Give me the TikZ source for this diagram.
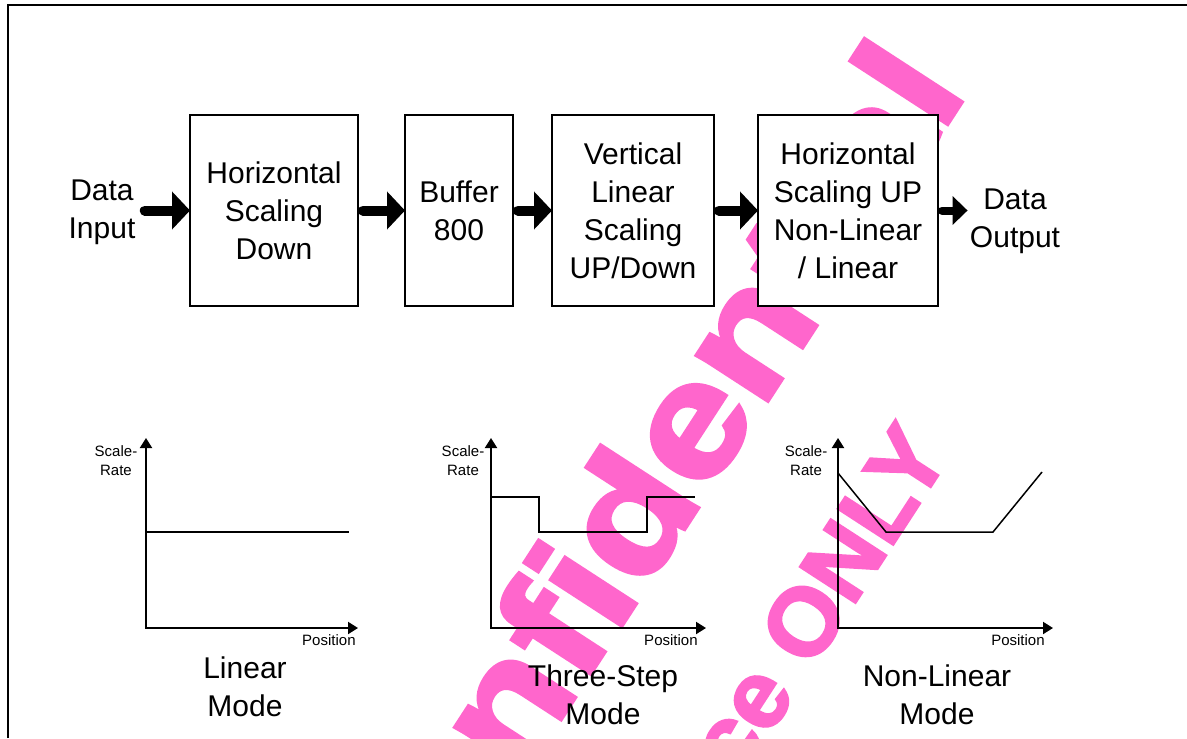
\documentclass[tikz,border=0pt]{standalone}
\usepackage{fontspec}
\setmainfont{Liberation Sans}
\newfontface\wmfont{Liberation Sans Bold}[FakeBold=2.5]
\usetikzlibrary{arrows.meta,positioning}
\definecolor{wmpink}{RGB}{255,102,204}

\begin{document}
\begin{tikzpicture}[
  x=0.5pt,y=-0.5pt,
  font=\fontsize{15}{19}\selectfont,
  blk/.style={draw,line width=0.8pt,fill=white,align=center,
              minimum height=95.5pt,inner sep=0pt,outer sep=0pt},
  lbl/.style={align=center,inner sep=2pt},
  tiny/.style={font=\fontsize{7.5}{9.5}\selectfont,align=center,inner sep=0pt},
  bigar/.style={line width=5pt,line cap=round,shorten <=2.5pt,
                -{Triangle[length=9pt,width=18.5pt]}},
  smallar/.style={line width=4pt,line cap=round,shorten <=2pt,
                  -{Triangle[length=7.5pt,width=14pt]}},
  axes/.style={line width=1pt,{Triangle[length=5pt,width=6pt]}-{Triangle[length=5pt,width=6pt]}},
  curve/.style={line width=0.75pt},
  wmark/.style={text=wmpink,inner sep=0pt,anchor=base east,rotate=57}
]
\useasboundingbox (0,0) rectangle (1187,738);
\clip (0,0) rectangle (1187,738);

% watermark, behind everything
\node[wmark,xscale=1.16,font=\fontsize{80}{80}\selectfont\wmfont] (wm1) at (969,91) {Confidential};
\node[wmark,font=\fontsize{48}{48}\selectfont\wmfont] (wm2) at (952,454) {Reference ONLY};

% frame
\draw[line width=1pt] (8,738) -- (8,5) -- (1187,5);

% processing chain
\node[blk,minimum width=84pt] (hsd) at (274,210.5) {Horizontal\\Scaling\\Down};
\node[blk,minimum width=54pt,right=23.5pt of hsd] (buf) {Buffer\\800};
\node[blk,minimum width=81pt,right=19.5pt of buf] (vls) {Vertical\\Linear\\Scaling\\UP/Down};
\node[blk,minimum width=90pt,right=22pt of vls] (hsu) {Horizontal\\Scaling UP\\Non-Linear\\/ Linear};
\node[lbl] (din) at (102,212) {Data\\Input};
\node[lbl,inner sep=1pt] (dout) at (1015,221) {Data\\Output};

\draw[bigar] (din.east |- hsd.west) -- (hsd.west);
\draw[bigar] (hsd.east) -- (buf.west);
\draw[bigar] (buf.east) -- (vls.west);
\draw[bigar] (vls.east) -- (hsu.west);
\draw[smallar] (hsu.east) -- (hsu.east -| dout.west);

% linear mode
\draw[axes] (146,438) -- (146,628) -- (358,628);
\draw[curve] (146,532) -- (349,532);
\node[tiny] (sr1) at (116,461) {Scale-\\Rate};
\node[tiny,anchor=base east] (pos1) at (356,645) {Position};
\node[lbl,inner sep=0pt] (lin) at (245,686.5) {Linear\\Mode};

% three-step mode
\draw[axes] (491,438) -- (491,628) -- (706,628);
\draw[curve] (491,497) -- (539,497) -- (539,532) -- (647,532) -- (647,497) -- (695,497);
\node[tiny] (sr2) at (463,461) {Scale-\\Rate};
\node[tiny,anchor=base east] (pos2) at (698,645) {Position};
\node[lbl,inner sep=0pt] (tsm) at (603,695) {Three-Step\\Mode};

% non-linear mode
\draw[axes] (838,438) -- (838,628) -- (1053,628);
\draw[curve] (838,473) -- (886,532) -- (993,532) -- (1042,472);
\node[tiny] (sr3) at (806,461) {Scale-\\Rate};
\node[tiny,anchor=base east] (pos3) at (1045,645) {Position};
\node[lbl,inner sep=0pt] (nlm) at (937,695) {Non-Linear\\Mode};
\end{tikzpicture}
\end{document}
